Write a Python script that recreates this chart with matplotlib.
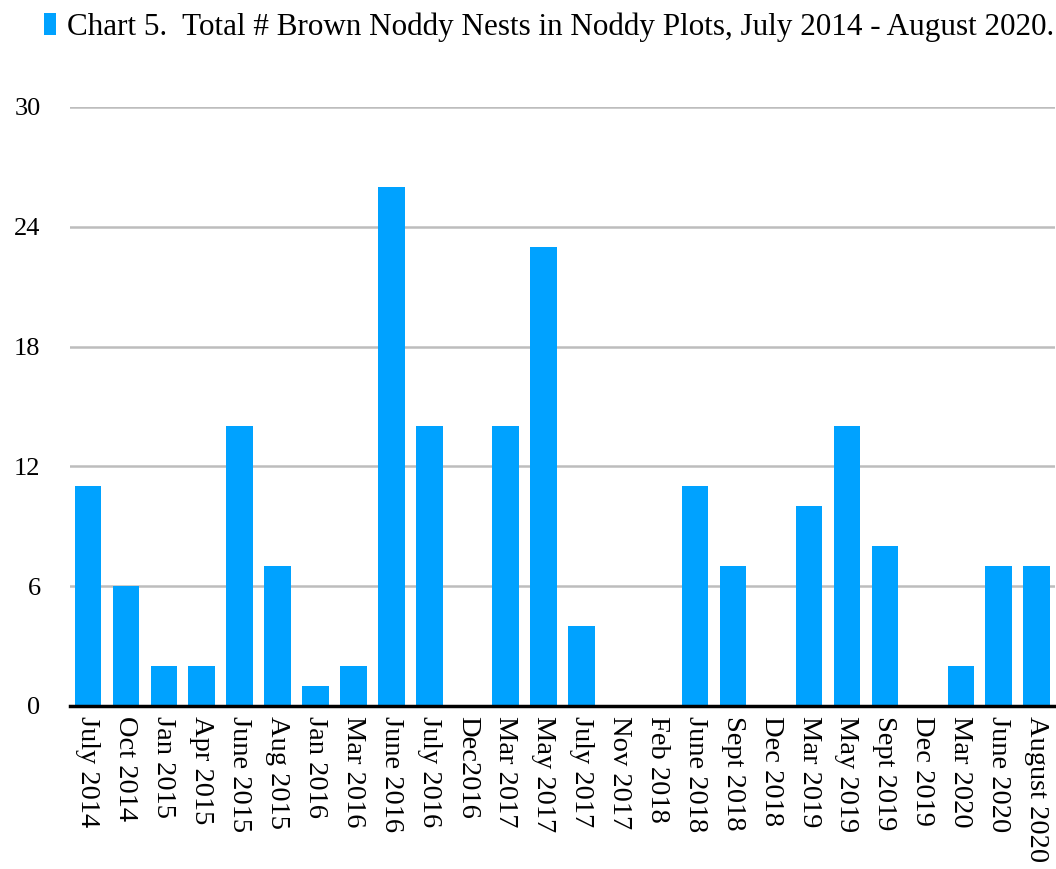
import numpy as np
import matplotlib.pyplot as plt

plt.rcParams['font.family'] = ['Liberation Serif', 'DejaVu Serif']

months = ["July 2014", "Oct 2014", "Jan 2015", "Apr 2015", "June 2015", "Aug 2015",
          "Jan 2016", "Mar 2016", "June 2016", "July 2016", "Dec2016", "Mar 2017",
          "May 2017", "July 2017", "Nov 2017", "Feb 2018", "June 2018", "Sept 2018",
          "Dec 2018", "Mar 2019", "May 2019", "Sept 2019", "Dec 2019", "Mar 2020",
          "June 2020", "August 2020"]
nests = [11, 6, 2, 2, 14, 7, 1, 2, 26, 14, 0, 14, 23, 4, 0, 0, 11, 7, 0, 10, 14, 8, 0, 2, 7, 7]
yticks = [0, 6, 12, 18, 24, 30]

fig = plt.figure(figsize=(10.56, 8.69), dpi=100)
ax = fig.add_axes([0.066, 0.1876, 0.933, 0.6893])

x = np.arange(len(months))
ax.bar(x, nests, width=0.7, color="#00A2FF", zorder=3,
       label="Chart 5.  Total # Brown Noddy Nests in Noddy Plots, July 2014 - August 2020.")

ax.set_xlim(-0.48, len(months) - 0.52)
ax.set_ylim(0, 30)
ax.set_yticks(yticks)
ax.set_xticks(x)
ax.set_xticklabels(months, rotation=270, fontsize=20.5)
ax.tick_params(axis="y", length=0, pad=21, labelsize=19)
ax.tick_params(axis="x", length=0, pad=7)
for t in ax.get_yticklabels():
    t.set_horizontalalignment("right")

for s in ["top", "right", "left"]:
    ax.spines[s].set_visible(False)
ax.spines["bottom"].set_linewidth(2.5)
ax.spines["bottom"].set_color("black")
ax.spines["bottom"].set_zorder(4)
ax.yaxis.grid(True, color="#bdbdbd", linewidth=1.8, zorder=0)

fig.legend(loc="upper left", bbox_to_anchor=(0.015, 1.018), frameon=False,
           fontsize=22.4, handlelength=0.4, handleheight=0.75, handletextpad=0.35)

fig.savefig("out.png", dpi=100)
